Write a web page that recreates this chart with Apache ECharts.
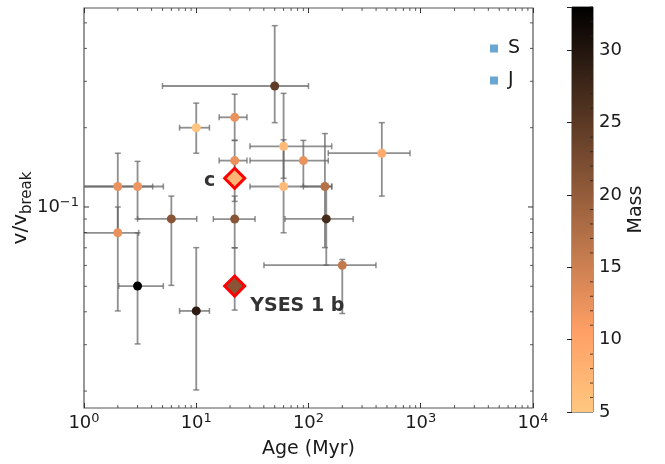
<!DOCTYPE html>
<html><head><meta charset="utf-8">
<script src="https://cdn.jsdelivr.net/npm/echarts@6/dist/echarts.min.js"></script>
<style>html,body{margin:0;padding:0;background:#fff}#c{width:665px;height:464px}</style>
</head><body><div id="c"></div><script>
// ---- data ----
const age    = [50, 10, 22, 22, 22, 22, 22, 60, 90, 450, 60, 140, 144, 200, 2, 3, 2, 6, 3, 10];
const ageLo  = [5.0, 7.1, 16.0, 16.0, null, 14.2, null, 30.1, 30.1, 150, 30.1, 90, 61.7, 40.1, 0.8, 0.8, 0.8, 3.0, 2.04, 7.1];
const ageHi  = [100, 13.1, 28.3, 28.3, null, 33.4, null, 161, 150, 802, 161, 161, 250, 399, 4.09, 5.09, 3.07, 10.1, 5.09, 13.1];
const vRatio = [0.288, 0.200, 0.219, 0.150, 0.1285, 0.090, 0.0501, 0.170, 0.150, 0.160, 0.1196, 0.1196, 0.0901, 0.0601, 0.1196, 0.1196, 0.0798, 0.0901, 0.0501, 0.0403];
const vLo    = [0.209, 0.160, 0.179, 0.125, 0.105, 0.070, 0.0406, 0.1285, 0.1196, 0.110, 0.0798, 0.0701, 0.0601, 0.0394, 0.080, 0.090, 0.0403, 0.0504, 0.0302, 0.0202];
const vHi    = [0.488, 0.248, 0.268, 0.179, 0.150, 0.110, 0.070, 0.270, 0.179, 0.209, 0.180, 0.190, 0.1196, 0.0632, 0.160, 0.149, 0.100, 0.110, 0.0798, 0.0701];
const mass   = [24.5, 5.5, 12.5, 12.5, 7.5, 21, 21, 7, 12.5, 9, 7, 17, 27, 16, 12.5, 12, 12.5, 21, 33, 29];
const highlightIdx   = [4, 6];
const highlightNames = ['c', 'YSES 1 b'];
const legendNames = ['S', 'J'];
// ---- axis ticks ----
const xMin = 1, xMax = 10000;
const yMin = 0.01725, yMax = 0.5695;
const massMin = 5, massMax = 33;
const xMinorTicks = [2,3,4,5,6,7,8,9,20,30,40,50,60,70,80,90,200,300,400,500,600,700,800,900,2000,3000,4000,5000,6000,7000,8000,9000];
const yMajorTicks = [0.1];
const yMajorLabels = ['{b|10}{s|\u22121}'];
const yMinorTicks = [0.02,0.03,0.04,0.05,0.06,0.07,0.08,0.09,0.2,0.3,0.4,0.5];
const cbMinorTicks = [6,7,8,9,11,12,13,14,16,17,18,19,21,22,23,24,26,27,28,29,31,32,33];

// copper_r colormap
function copperR(t){ const x = 1 - t; const r = Math.min(1, 1.25*x), g = 0.7812*x, b = 0.4975*x;
  return 'rgb(' + Math.round(r*255) + ',' + Math.round(g*255) + ',' + Math.round(b*255) + ')'; }
const NS = 56;
const cmap = []; for (let i = 0; i <= NS; i++) cmap.push(copperR(i/NS));

const FONT = 'DejaVu Sans';
const tickColor = '#333';
const errColor = 'rgba(100,100,100,0.72)';

const chart = echarts.init(document.getElementById('c'), null, {renderer:'canvas'});

function seg(x1,y1,x2,y2,w,c){ return {type:'line', shape:{x1,y1,x2,y2}, style:{stroke:c||tickColor, lineWidth:w||1}}; }

const option = {
  animation:false,
  backgroundColor:'#fff',
  textStyle:{fontFamily:FONT},
  grid:[
    {left:84, top:8, width:449, height:404, show:true, borderColor:'#555', borderWidth:1.2, backgroundColor:'transparent', containLabel:false},
    {left:572, top:7, width:21, height:405, show:true, borderColor:'#333', borderWidth:1, backgroundColor:'transparent', containLabel:false}
  ],
  xAxis:[
    {type:'log', logBase:10, gridIndex:0, min:xMin, max:xMax, position:'bottom',
     name:'Age (Myr)', nameLocation:'middle', nameGap:32,
     nameTextStyle:{fontSize:19, color:'#1a1a1a', fontFamily:FONT},
     axisLine:{show:false}, splitLine:{show:false},
     axisTick:{show:true, inside:true, length:5, lineStyle:{color:tickColor, width:1}},
     axisLabel:{margin:4, color:'#1a1a1a', fontFamily:FONT,
       formatter:function(v){ return '{b|10}{s|' + Math.round(Math.log10(v)) + '}'; },
       rich:{b:{fontSize:18, fontFamily:FONT, color:'#1a1a1a', lineHeight:22}, s:{fontSize:13, fontFamily:FONT, color:'#1a1a1a', verticalAlign:'top', lineHeight:13}}}},
    {type:'log', logBase:10, gridIndex:0, min:xMin, max:xMax, position:'top',
     axisLine:{show:false}, splitLine:{show:false}, axisLabel:{show:false},
     axisTick:{show:true, inside:true, length:5, lineStyle:{color:tickColor, width:1}}},
    {type:'value', gridIndex:1, min:0, max:1, show:false}
  ],
  yAxis:[
    {type:'log', logBase:10, gridIndex:0, min:yMin, max:yMax,
     name:'{a|v/v}{sub|break}', nameLocation:'middle', nameGap:53, nameRotate:90,
     nameTextStyle:{fontFamily:FONT, rich:{a:{fontSize:20, color:'#1a1a1a', fontFamily:FONT}, sub:{fontSize:15, color:'#1a1a1a', fontFamily:FONT, verticalAlign:'bottom', padding:[0,0,-4,0]}}},
     axisLine:{show:false}, axisTick:{show:false}, axisLabel:{show:false}, splitLine:{show:false}},
    {type:'value', gridIndex:1, min:massMin, max:massMax, interval:5, position:'right',
     name:'Mass', nameLocation:'middle', nameGap:34, nameRotate:90,
     nameTextStyle:{fontSize:19, color:'#1a1a1a', fontFamily:FONT},
     axisLine:{show:false}, splitLine:{show:false},
     axisTick:{show:true, inside:true, length:5, lineStyle:{color:'#222', width:1}},
     axisLabel:{margin:6, fontSize:18, color:'#1a1a1a', fontFamily:FONT,
       formatter:function(v){ return (Math.abs(v % 5) < 1e-9) ? String(v) : ''; }}}
  ],
  visualMap:{type:'continuous', show:false, min:massMin, max:massMax, dimension:2, seriesIndex:[2,3], inRange:{color:cmap}},
  legend:{show:true, orient:'vertical', left:490, top:39, padding:0, itemGap:13, itemWidth:8, itemHeight:8,
    icon:'rect', data:legendNames, textStyle:{fontSize:19, color:'#1a1a1a', fontFamily:FONT, padding:[0,0,0,5]}},
  series:[
    // 0: error bars
    {type:'custom', xAxisIndex:0, yAxisIndex:0, clip:true, z:1, silent:true,
     encode:{x:0, y:1},
     data: age.map((a,i)=>[a, vRatio[i], ageLo[i]==null?'-':ageLo[i], ageHi[i]==null?'-':ageHi[i], vLo[i]==null?'-':vLo[i], vHi[i]==null?'-':vHi[i]]),
     renderItem:function(params, api){
       const x = api.value(0), y = api.value(1);
       const xl = api.value(2), xh = api.value(3), yl = api.value(4), yh = api.value(5);
       const ch = [];
       const cap = 3;
       if (isFinite(xl) && isFinite(xh)) {
         const p1 = api.coord([xl, y]), p2 = api.coord([xh, y]);
         ch.push(seg(p1[0],p1[1],p2[0],p2[1],1.8,errColor));
         ch.push(seg(p1[0],p1[1]-cap,p1[0],p1[1]+cap,1.5,errColor));
         ch.push(seg(p2[0],p2[1]-cap,p2[0],p2[1]+cap,1.5,errColor));
       }
       if (isFinite(yl) && isFinite(yh)) {
         const p1 = api.coord([x, yl]), p2 = api.coord([x, yh]);
         ch.push(seg(p1[0],p1[1],p2[0],p2[1],1.8,errColor));
         ch.push(seg(p1[0]-cap,p1[1],p1[0]+cap,p1[1],1.5,errColor));
         ch.push(seg(p2[0]-cap,p2[1],p2[0]+cap,p2[1],1.5,errColor));
       }
       return {type:'group', children:ch};
     }},
    // 1: minor ticks and y tick labels
    {type:'custom', xAxisIndex:0, yAxisIndex:0, clip:false, z:6, silent:true,
     data:[[10, 0.1]],
     renderItem:function(params, api){
       const cs = params.coordSys; const L = cs.x, R = cs.x + cs.width, T = cs.y, B = cs.y + cs.height;
       const ch = []; const mn = 3, mj = 5;
       xMinorTicks.forEach(v=>{ const px = api.coord([v, 0.1])[0]; ch.push(seg(px,B,px,B-mn,0.8), seg(px,T,px,T+mn,0.8)); });
       yMinorTicks.forEach(v=>{ const py = api.coord([10, v])[1]; ch.push(seg(L,py,L+mn,py,0.8), seg(R,py,R-mn,py,0.8)); });
       yMajorTicks.forEach((v,k)=>{ const py = api.coord([10, v])[1];
         ch.push(seg(L,py,L+mj,py,1), seg(R,py,R-mj,py,1));
         ch.push({type:'text', x:L-5, y:py, style:{text:yMajorLabels[k], align:'right', verticalAlign:'middle', fill:'#1a1a1a',
           rich:{b:{fontSize:18, fontFamily:FONT, fill:'#1a1a1a', lineHeight:22}, s:{fontSize:13, fontFamily:FONT, fill:'#1a1a1a', verticalAlign:'top', lineHeight:13}}}});
       });
       return {type:'group', children:ch};
     }},
    // 2: dots
    {type:'scatter', xAxisIndex:0, yAxisIndex:0, z:4, symbol:'circle', symbolSize:9,
     data: age.map((a,i)=>[a, vRatio[i], mass[i]]), itemStyle:{opacity:1}},
    // 3: highlighted diamonds
    {type:'scatter', xAxisIndex:0, yAxisIndex:0, z:3, symbol:'diamond', symbolSize:20,
     itemStyle:{borderColor:'#ff0000', borderWidth:3, opacity:1},
     data: highlightIdx.map((i,k)=>({value:[age[i], vRatio[i], mass[i]],
       label:{show:true, formatter:highlightNames[k], fontFamily:FONT, fontSize:19, fontWeight:'bold', color:'#333',
         position: k===0 ? [-8,14] : [27,32], align: k===0 ? 'right' : 'left', verticalAlign:'middle'}}))},
    // 4: colorbar
    {type:'custom', xAxisIndex:2, yAxisIndex:1, z:1, silent:true, clip:false,
     data:[[0.5, massMin]],
     renderItem:function(params, api){
       const p0 = api.coord([0, massMin]), p1 = api.coord([1, massMax]);
       const stops = cmap.map((c,i)=>({offset:i/NS, color:c}));
       const cs = params.coordSys; const R = cs.x + cs.width;
       const ch = [{type:'rect', shape:{x:p0[0], y:p1[1], width:p1[0]-p0[0], height:p0[1]-p1[1]},
         style:{fill:new echarts.graphic.LinearGradient(0,1,0,0,stops)}}];
       cbMinorTicks.forEach(v=>{ const py = api.coord([0, v])[1]; ch.push(seg(R,py,R-3,py,0.8,'#222')); });
       return {type:'group', children:ch};
     }},
    // 5,6: legend entries
    {type:'scatter', name:'S', data:[], symbol:'rect', itemStyle:{color:'#4690c4'}},
    {type:'scatter', name:'J', data:[], symbol:'rect', itemStyle:{color:'#4690c4'}}
  ]
};
chart.setOption(option);
</script></body></html>
